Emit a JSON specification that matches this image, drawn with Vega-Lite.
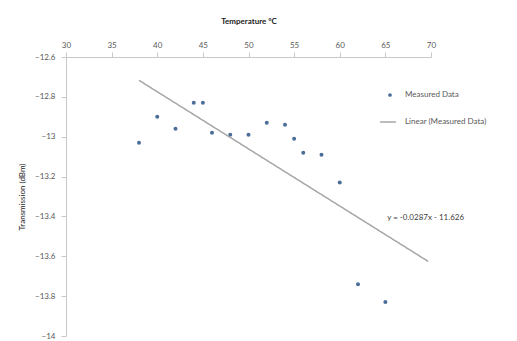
{
  "$schema": "https://vega.github.io/schema/vega-lite/v6.json",
  "width": 365,
  "height": 279,
  "autosize": {"type": "none"},
  "padding": {"left": 66, "top": 57, "right": 86, "bottom": 5},
  "background": "white",
  "config": {
    "font": "Lato",
    "view": {"stroke": null},
    "axis": {
      "grid": false,
      "domainColor": "#c8c8c8",
      "tickColor": "#c8c8c8",
      "labelColor": "#595959",
      "labelFontSize": 8,
      "titleFontSize": 8,
      "titleColor": "#222222",
      "tickSize": 5
    },
    "legend": {"labelFontSize": 8, "labelColor": "#595959"}
  },
  "encoding": {
    "x": {
      "field": "temp",
      "type": "quantitative",
      "scale": {"domain": [30, 70], "nice": false, "zero": false},
      "axis": {
        "orient": "top",
        "title": "Temperature °C",
        "titleFontWeight": "bold",
        "titlePadding": 16,
        "values": [30, 35, 40, 45, 50, 55, 60, 65, 70],
        "labelPadding": 3,
        "labelOverlap": false,
        "labelFlush": false,
        "labelBound": false
      }
    },
    "y": {
      "field": "trans",
      "type": "quantitative",
      "scale": {"domain": [-14, -12.6], "nice": false, "zero": false},
      "axis": {
        "title": "Transmission (dBm)",
        "titleFontWeight": "normal",
        "titlePadding": 8,
        "values": [-14, -13.8, -13.6, -13.4, -13.2, -13, -12.8, -12.6],
        "labelExpr": "format(datum.value, '.1~f')",
        "labelPadding": 6,
        "labelOverlap": false,
        "labelFlush": false,
        "labelBound": false
      }
    }
  },
  "layer": [
    {
      "data": {
        "values": [
          {"temp": 38, "trans": -13.03, "series": "Measured Data"},
          {"temp": 40, "trans": -12.9, "series": "Measured Data"},
          {"temp": 42, "trans": -12.96, "series": "Measured Data"},
          {"temp": 44, "trans": -12.83, "series": "Measured Data"},
          {"temp": 45, "trans": -12.83, "series": "Measured Data"},
          {"temp": 46, "trans": -12.98, "series": "Measured Data"},
          {"temp": 48, "trans": -12.99, "series": "Measured Data"},
          {"temp": 50, "trans": -12.99, "series": "Measured Data"},
          {"temp": 52, "trans": -12.93, "series": "Measured Data"},
          {"temp": 54, "trans": -12.94, "series": "Measured Data"},
          {"temp": 55, "trans": -13.01, "series": "Measured Data"},
          {"temp": 56, "trans": -13.08, "series": "Measured Data"},
          {"temp": 58, "trans": -13.09, "series": "Measured Data"},
          {"temp": 60, "trans": -13.23, "series": "Measured Data"},
          {"temp": 62, "trans": -13.74, "series": "Measured Data"},
          {"temp": 65, "trans": -13.83, "series": "Measured Data"}
        ]
      },
      "mark": {"type": "point", "filled": true, "size": 16, "opacity": 1},
      "encoding": {
        "color": {
          "field": "series",
          "type": "nominal",
          "scale": {"range": ["#4a6d9a"]},
          "legend": {"title": null, "orient": "none", "legendX": 320, "legendY": 34, "symbolSize": 14, "labelOffset": 11}
        }
      }
    },
    {
      "data": {
        "values": [
          {"temp": 38, "trans": -12.717, "trend": "Linear (Measured Data)"},
          {"temp": 69.7, "trans": -13.626, "trend": "Linear (Measured Data)"}
        ]
      },
      "mark": {"type": "line", "color": "#a6a6a6", "strokeWidth": 1.5},
      "encoding": {
        "strokeDash": {
          "field": "trend",
          "type": "nominal",
          "scale": {"range": [[1, 0]]},
          "legend": {"title": null, "orient": "none", "legendX": 313, "legendY": 56, "symbolSize": 250, "symbolStrokeColor": "#a6a6a6", "labelOffset": 8}
        }
      }
    },
    {
      "data": {"values": [{"temp": 65.2, "trans": -13.41, "label": "y = -0.0287x - 11.626"}]},
      "mark": {"type": "text", "align": "left", "baseline": "middle", "fontSize": 8, "color": "#404040"},
      "encoding": {
        "text": {"field": "label"}
      }
    }
  ]
}
